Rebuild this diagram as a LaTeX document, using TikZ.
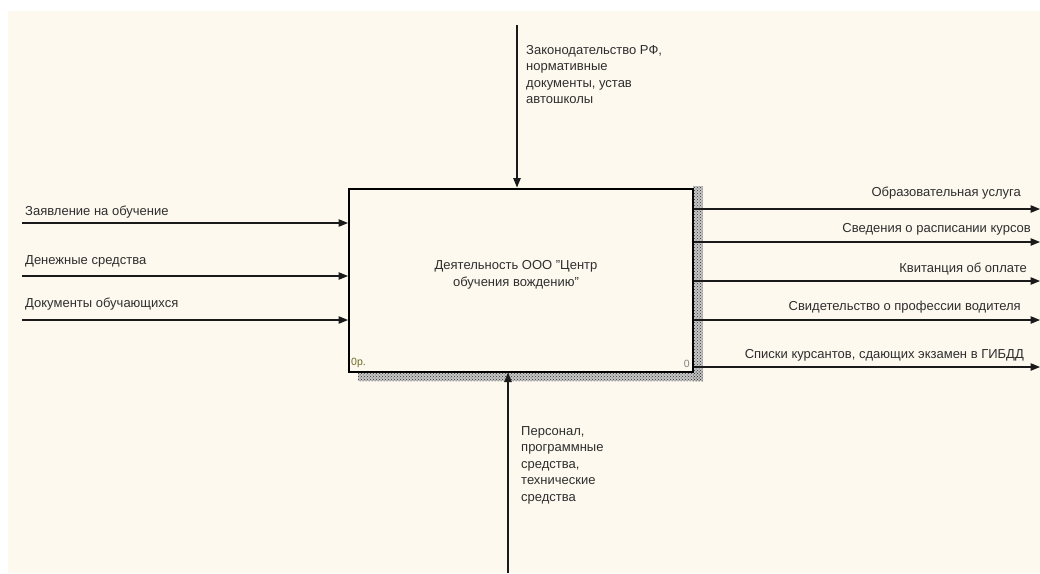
\documentclass[tikz,border=0pt]{standalone}
\usepackage{fontspec}
\setmainfont{Liberation Sans}
\usetikzlibrary{arrows.meta,patterns}
\definecolor{bgc}{HTML}{FDF9EF}
\definecolor{txt}{HTML}{2E2E2E}
\definecolor{lnc}{HTML}{1A1A1A}
\tikzset{
  arr/.style={draw=lnc, line width=1.1pt, -{Triangle[length=9.5pt,width=7.5pt]}},
  lbl/.style={font=\fontsize{13}{16.5}\selectfont, text=txt, inner sep=0pt},
  shadowbase/.style={fill=gray!45, draw=none},
  shadow/.style={pattern=crosshatch dots, pattern color=black!80, draw=none},
}
\begin{document}
\begin{tikzpicture}[x=1pt,y=-1pt]
\useasboundingbox (0,0) rectangle (1040,573);
\fill[white] (0,0) rectangle (1040,573);
\fill[bgc] (8,11) rectangle (1040,573);
% shadow
\fill[shadowbase] (693,186) rectangle (703,381);
\fill[shadowbase] (358,371) rectangle (703,381);
\fill[shadow] (693,186) rectangle (703,381);
\fill[shadow] (358,371) rectangle (703,381);
% box
\node[draw=black, line width=2pt, fill=bgc, minimum width=344pt, minimum height=183pt, inner sep=0pt] (box) at (521,280) {};
\node[lbl, align=center] (boxtxt) at (516,275) {Деятельность ООО \symbol{34}Центр\\обучения вождению\symbol{34}};
\node[font=\fontsize{10.5}{11}\selectfont, text=olive!70!black, anchor=south west, inner sep=0pt] (nodeid) at (351,368) {0р.};
\node[font=\fontsize{10.5}{11}\selectfont, text=gray, anchor=south east, inner sep=0pt] (nodenum) at (690,368) {0};
% control
\coordinate (ctop) at (517,25);
\draw[arr] (ctop) -- (ctop |- box.north);
\node[lbl, align=left, anchor=north west] (ctl) at (526,45) {Законодательство РФ,\\нормативные\\документы, устав\\автошколы};
% mechanism
\coordinate (mbot) at (508,573);
\draw[arr] (mbot) -- (mbot |- box.south);
\node[lbl, align=left, anchor=north west] (mech) at (521,426) {Персонал,\\программные\\средства,\\технические\\средства};
% inputs
\coordinate (i1) at (22,223);
\coordinate (i2) at (22,276);
\coordinate (i3) at (22,320);
\draw[arr] (i1) -- (i1 -| box.west);
\draw[arr] (i2) -- (i2 -| box.west);
\draw[arr] (i3) -- (i3 -| box.west);
\node[lbl, anchor=base west] (il1) at (25,215) {Заявление на обучение};
\node[lbl, anchor=base west] (il2) at (25,264) {Денежные средства};
\node[lbl, anchor=base west] (il3) at (25,307) {Документы обучающихся};
% outputs
\coordinate (o1) at (1040,209);
\coordinate (o2) at (1040,242);
\coordinate (o3) at (1040,281);
\coordinate (o4) at (1040,320);
\coordinate (o5) at (1040,367);
\draw[arr] (o1 -| box.east) -- (o1);
\draw[arr] (o2 -| box.east) -- (o2);
\draw[arr] (o3 -| box.east) -- (o3);
\draw[arr] (o4 -| box.east) -- (o4);
\draw[arr] (o5 -| box.east) -- (o5);
\node[lbl, anchor=base east] (ol1) at (1021,196) {Образовательная услуга};
\node[lbl, anchor=base east] (ol2) at (1031,232) {Сведения о расписании курсов};
\node[lbl, anchor=base east] (ol3) at (1027,272) {Квитанция об оплате};
\node[lbl, anchor=base east] (ol4) at (1021,310) {Свидетельство о профессии водителя};
\node[lbl, anchor=base east] (ol5) at (1024,358) {Списки курсантов, сдающих экзамен в ГИБДД};
\end{tikzpicture}
\end{document}
